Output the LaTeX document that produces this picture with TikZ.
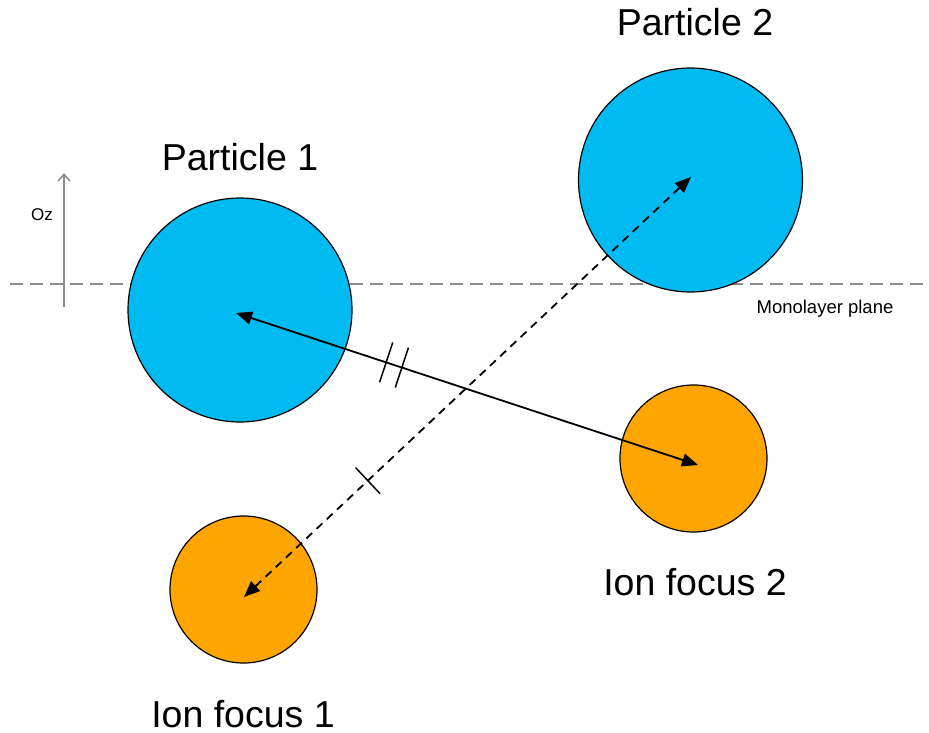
\documentclass[tikz,border=0pt]{standalone}
\usepackage{fontspec}
\setmainfont{Liberation Sans}
\usetikzlibrary{arrows.meta,calc}
\definecolor{partblue}{HTML}{00BBF2}
\definecolor{ionorange}{HTML}{FFA500}
\definecolor{planegrey}{HTML}{8C8C8C}
\tikzset{
  particle/.style={circle,draw=black,line width=1.2pt,fill=partblue,minimum size=224pt,inner sep=0pt},
  ion/.style={circle,draw=black,line width=1.2pt,fill=ionorange,minimum size=147pt,inner sep=0pt},
  biglabel/.style={font=\fontsize{37.5}{44}\selectfont,anchor=base,inner sep=0pt},
  smalllabel/.style={font=\fontsize{17}{20}\selectfont,anchor=base,inner sep=0pt},
  planelabel/.style={font=\fontsize{18.5}{22}\selectfont,anchor=base,inner sep=0pt},
  link/.style={line width=1.8pt,{Triangle[length=16pt,width=13pt]}-{Triangle[length=16pt,width=13pt]}},
  dashlink/.style={link,dash pattern=on 8pt off 6pt},
  tickmark/.style={line width=1.5pt},
  planeline/.style={planegrey,line width=1.5pt,dash pattern=on 13pt off 7pt},
  axis/.style={planegrey,line width=1.5pt,-{Straight Barb[length=7pt,width=12pt]}}
}
\begin{document}
\begin{tikzpicture}[x=1pt,y=-1pt]
\useasboundingbox (0,0) rectangle (929,733);
% monolayer plane
\coordinate (pl) at (10,284);
\coordinate (pr) at (929,284);
\draw[planeline] (pl) -- (pr);
% Oz axis
\coordinate (oz0) at (64,307);
\coordinate (oz1) at (64,173);
\draw[axis] (oz0) -- (oz1);
\node[smalllabel] (ozl) at (42,220) {Oz};
\node[planelabel] (mpl) at (825,313) {Monolayer plane};
% particles and ion foci
\node[particle] (p1) at (240,310) {};
\node[particle] (p2) at (690.5,180) {};
\node[ion] (i1) at (243.5,589.5) {};
\node[ion] (i2) at (693.5,458.5) {};
% labels
\node[biglabel] (p1l) at (240,171) {Particle 1};
\node[biglabel] (p2l) at (695,36) {Particle 2};
\node[biglabel] (i1l) at (243,727) {Ion focus 1};
\node[biglabel] (i2l) at (695,595) {Ion focus 2};
% arrow end points
\coordinate (a1) at ($(p1.center)+(-4,3)$);
\coordinate (a2) at ($(i2.center)+(4.5,6.5)$);
\coordinate (b1) at ($(i1.center)+(0.5,7.5)$);
\coordinate (b2) at ($(p2.center)+(0.5,-3)$);
\draw[link] (a1) -- (a2);
\draw[dashlink] (b1) -- (b2);
% tick marks
\coordinate (t1) at ($(a1)!0.325!(a2)$);
\coordinate (t2) at ($(a1)!0.359!(a2)$);
\coordinate (t3) at ($(b1)!0.277!(b2)$);
\draw[tickmark] ($(t1)!21pt!90:(a2)$) -- ($(t1)!21pt!-90:(a2)$);
\draw[tickmark] ($(t2)!21pt!90:(a2)$) -- ($(t2)!21pt!-90:(a2)$);
\draw[tickmark] ($(t3)!18pt!90:(b2)$) -- ($(t3)!18pt!-90:(b2)$);
\end{tikzpicture}
\end{document}
